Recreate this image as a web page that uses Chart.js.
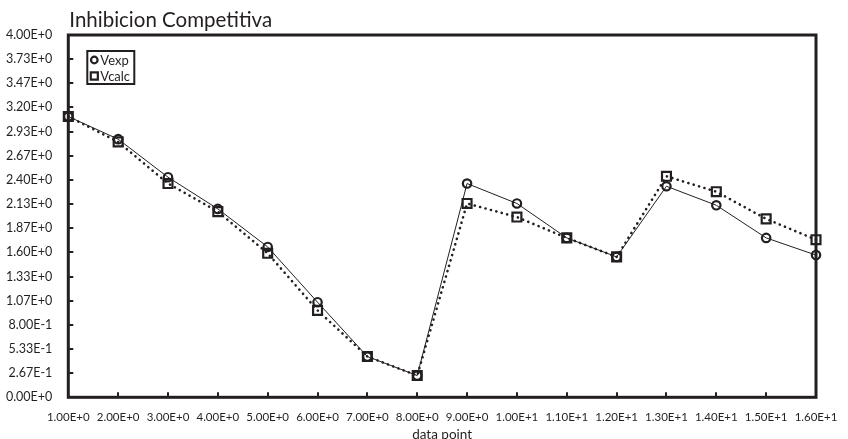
<!DOCTYPE html>
<html>
<head>
<meta charset="utf-8">
<script src="https://cdn.jsdelivr.net/npm/chart.js@4/dist/chart.umd.min.js"></script>
<style>
  html, body { margin: 0; padding: 0; background: #ffffff; }
  #wrap { width: 848px; height: 439px; position: relative; }
</style>
</head>
<body>
<div id="wrap"><canvas id="c" width="848" height="439"></canvas></div>
<script>
// ---- data ----
const dataPoints = [1, 2, 3, 4, 5, 6, 7, 8, 9, 10, 11, 12, 13, 14, 15, 16];
const vexp  = [3.10, 2.85, 2.43, 2.08, 1.66, 1.05, 0.45, 0.24, 2.36, 2.14, 1.76, 1.55, 2.33, 2.12, 1.76, 1.57];
const vcalc = [3.10, 2.82, 2.36, 2.05, 1.59, 0.96, 0.45, 0.24, 2.14, 1.99, 1.76, 1.55, 2.44, 2.27, 1.97, 1.74];
const yTickValues = [0, 0.26667, 0.53333, 0.8, 1.06667, 1.33333, 1.6, 1.86667, 2.13333, 2.4, 2.66667, 2.93333, 3.2, 3.46667, 3.73333, 4.0];
const xTickValues = [1, 2, 3, 4, 5, 6, 7, 8, 9, 10, 11, 12, 13, 14, 15, 16];
const seriesNames = ['Vexp', 'Vcalc'];
const chartTitle = 'Inhibicion Competitiva';
const xTitle = 'data point';

const INK = '#231f20';
const FONT = 'Lato, "Open Sans", sans-serif';
const fmt = v => Number(v).toExponential(2).toUpperCase();

const framePlugin = {
  id: 'frame',
  afterDatasetsDraw(chart) {
    const ctx = chart.ctx;
    const a = chart.chartArea;
    const xs = chart.scales.x, ys = chart.scales.y;
    ctx.save();
    // inward tick marks
    ctx.strokeStyle = INK;
    ctx.lineWidth = 2;
    ctx.beginPath();
    xs.ticks.forEach(t => {
      const px = Math.round(xs.getPixelForValue(t.value));
      ctx.moveTo(px, a.bottom);
      ctx.lineTo(px, a.bottom - 5);
    });
    ys.ticks.forEach(t => {
      const py = Math.round(ys.getPixelForValue(t.value));
      ctx.moveTo(a.left, py);
      ctx.lineTo(a.left + 5, py);
    });
    ctx.stroke();
    // frame
    ctx.lineWidth = 3;
    ctx.strokeRect(a.left, a.top, a.right - a.left, a.bottom - a.top);
    // title
    ctx.fillStyle = INK;
    ctx.font = '20.5px ' + FONT;
    ctx.textAlign = 'left';
    ctx.textBaseline = 'alphabetic';
    ctx.fillText(chartTitle, a.left + 1, 27);
    // legend
    const lx = a.left + 19, ly = a.top + 16, lw = 47, lh = 33;
    ctx.lineWidth = 2;
    ctx.strokeRect(lx, ly, lw, lh);
    ctx.font = '13px ' + FONT;
    ctx.textBaseline = 'middle';
    chart.data.datasets.forEach((ds, i) => {
      const cy = ly + 9 + i * 16;
      ctx.strokeStyle = INK;
      ctx.fillStyle = 'rgba(0,0,0,0)';
      ctx.lineWidth = 2.2;
      Chart.helpers.drawPoint(ctx, {
        pointStyle: ds.pointStyle,
        radius: ds.pointStyle === 'rect' ? 5 : 3.3,
        borderWidth: 2.2,
        rotation: 0
      }, lx + 7, cy);
      ctx.fillStyle = INK;
      ctx.fillText(ds.label, lx + 13, cy + 0.5);
    });
    ctx.restore();
  }
};

new Chart(document.getElementById('c'), {
  type: 'line',
  data: {
    datasets: [
      {
        label: seriesNames[0],
        data: dataPoints.map((x, i) => ({ x: x, y: vexp[i] })),
        borderColor: INK,
        borderWidth: 1,
        pointStyle: 'circle',
        pointRadius: 4.2,
        pointBorderWidth: 2.2,
        pointBackgroundColor: 'rgba(0,0,0,0)',
        pointBorderColor: INK,
        tension: 0,
        clip: false
      },
      {
        label: seriesNames[1],
        data: dataPoints.map((x, i) => ({ x: x, y: vcalc[i] })),
        borderColor: INK,
        borderWidth: 2.6,
        borderDash: [0.1, 5.5],
        borderCapStyle: 'round',
        pointStyle: 'rect',
        pointRadius: 6.3,
        pointBorderWidth: 2.2,
        pointBackgroundColor: 'rgba(0,0,0,0)',
        pointBorderColor: INK,
        tension: 0,
        clip: false
      }
    ]
  },
  options: {
    responsive: false,
    animation: false,
    devicePixelRatio: 1,
    layout: { padding: { top: 35, right: 32, bottom: 0, left: 0 } },
    plugins: {
      legend: { display: false },
      title: { display: false },
      tooltip: { enabled: false }
    },
    scales: {
      x: {
        type: 'linear',
        min: 1,
        max: 16,
        grid: { display: false },
        border: { display: false },
        afterBuildTicks: s => { s.ticks = xTickValues.map(v => ({ value: v })); },
        afterFit: s => { s.height = 41.7; },
        ticks: {
          autoSkip: false,
          maxRotation: 0,
          padding: 5,
          color: INK,
          font: { family: FONT, size: 11.5 },
          callback: v => fmt(v)
        },
        title: {
          display: true,
          text: xTitle,
          color: INK,
          padding: 0,
          font: { family: FONT, size: 13.5, lineHeight: 0.7 }
        }
      },
      y: {
        type: 'linear',
        min: 0,
        max: 4,
        grid: { display: false },
        border: { display: false },
        afterBuildTicks: s => { s.ticks = yTickValues.map(v => ({ value: v })); },
        afterFit: s => { s.width = 68.3; },
        ticks: {
          autoSkip: false,
          padding: 8,
          color: INK,
          font: { family: FONT, size: 12.5 },
          callback: v => fmt(v)
        }
      }
    }
  },
  plugins: [framePlugin]
});
</script>
</body>
</html>
